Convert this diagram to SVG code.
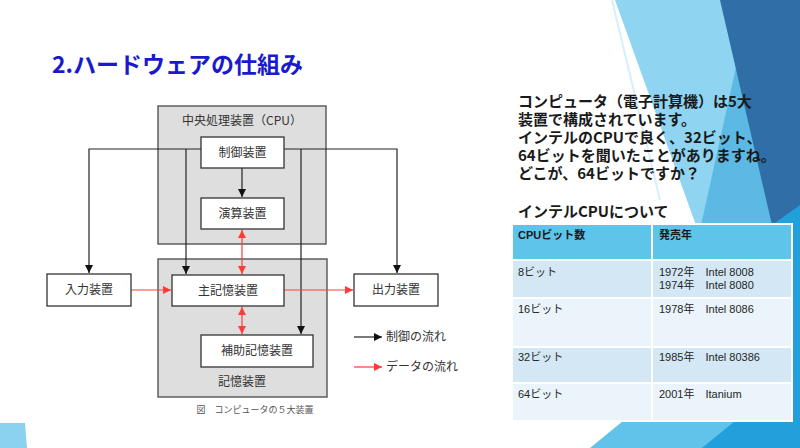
<svg xmlns="http://www.w3.org/2000/svg" width="800" height="448" viewBox="0 0 800 448">
<defs>
<style>
.jp{font-family:"Noto Sans CJK JP","Noto Sans",sans-serif}
.lbl{font-family:"Noto Sans CJK JP",sans-serif;font-size:12px;fill:#333;text-anchor:middle}
.box{fill:#fff;stroke:#333;stroke-width:1.3}
.grp{fill:#dedede;stroke:#555;stroke-width:1.4}
.ctl{fill:none;stroke:#222;stroke-width:1.2}
.dat{fill:none;stroke:#ff3b3b;stroke-width:1.2}
.rt{font-family:"Noto Sans CJK JP",sans-serif;font-size:15px;font-weight:bold;fill:#1a1a1a}
.tt{font-family:"Liberation Sans","Noto Sans CJK JP",sans-serif;font-size:11px;fill:#262626}
.th{font-family:"Liberation Sans","Noto Sans CJK JP",sans-serif;font-size:11px;font-weight:bold;fill:#1a1a1a}
.cell{stroke:#fff;stroke-width:2}
</style>
<marker id="ab" markerWidth="9" markerHeight="9" refX="8" refY="4" orient="auto" markerUnits="userSpaceOnUse"><path d="M0,0 L8,4 L0,8 z" fill="#111"/></marker>
<marker id="ar" markerWidth="9" markerHeight="9" refX="8" refY="4" orient="auto-start-reverse" markerUnits="userSpaceOnUse"><path d="M0,0 L8,4 L0,8 z" fill="#ff3b3b"/></marker>
</defs>
<rect width="800" height="448" fill="#fff"/>
<g id="background">
<polygon points="615,0 800,0 800,448 776,448" fill="#8fd4f1"/>
<line x1="612" y1="0" x2="660" y2="200" stroke="#d6f0fb" stroke-width="2"/>
<polygon points="742,40 772,225 700,230" fill="#5cb9e4"/>
<polygon points="720,0 800,0 800,225 772,225" fill="#2f6ea6"/>
<polygon points="800,205 800,448 700,448 772,225" fill="#21a0dc"/>
<polygon points="590,448 623,421 735,421 702,448" fill="#62c3ea"/>
<polygon points="0,423 25,423 27,448 0,448" fill="#8ad2f0"/>
</g>
<text id="title" x="52" y="73" class="jp" font-size="23" font-weight="bold" fill="#1a1acc">2.ハードウェアの仕組み</text>
<g id="cpu"><rect x="158" y="106" width="168" height="138" class="grp"/><text x="242" y="125" class="lbl" font-size="11">中央処理装置（CPU）</text></g>
<g id="memory"><rect x="158" y="259" width="169" height="138" class="grp"/><text x="242" y="386" class="lbl">記憶装置</text></g>
<g id="connectors">
<path class="ctl" d="M201,149 H89 V273" marker-end="url(#ab)"/>
<path class="ctl" d="M186,149 V274" marker-end="url(#ab)"/>
<path class="ctl" d="M284,149 H397 V273" marker-end="url(#ab)"/>
<path class="ctl" d="M301,149 V334" marker-end="url(#ab)"/>
<path class="ctl" d="M242,168 V197" marker-end="url(#ab)"/>
<path class="dat" d="M242,230 V274" marker-start="url(#ar)" marker-end="url(#ar)"/>
<path class="dat" d="M242,307 V334" marker-start="url(#ar)" marker-end="url(#ar)"/>
<path class="dat" d="M131,290 H171" marker-end="url(#ar)"/>
<path class="dat" d="M284,290 H353" marker-end="url(#ar)"/>
</g>
<g id="control"><rect x="201" y="137" width="83" height="31" class="box"/><text x="242.5" y="157" class="lbl">制御装置</text></g>
<g id="alu"><rect x="201" y="198" width="83" height="31" class="box"/><text x="242.5" y="218" class="lbl">演算装置</text></g>
<g id="main"><rect x="172" y="275" width="112" height="31" class="box"/><text x="228" y="295" class="lbl">主記憶装置</text></g>
<g id="aux"><rect x="201" y="335" width="112" height="32" class="box"/><text x="257" y="355" class="lbl">補助記憶装置</text></g>
<g id="input"><rect x="47" y="274" width="84" height="32" class="box"/><text x="89" y="294" class="lbl">入力装置</text></g>
<g id="output"><rect x="354" y="274" width="84" height="32" class="box"/><text x="396" y="294" class="lbl">出力装置</text></g>
<g id="legend">
<path class="ctl" d="M354,337 H382" marker-end="url(#ab)"/>
<text x="386" y="341" class="lbl" style="text-anchor:start">制御の流れ</text>
<path class="dat" d="M354,367 H382" marker-end="url(#ar)"/>
<text x="386" y="371" class="lbl" style="text-anchor:start">データの流れ</text>
</g>
<text id="caption" x="255" y="413" class="jp" font-size="9" fill="#555" text-anchor="middle">図　コンピュータの５大装置</text>
<g id="righttext">
<text class="rt"><tspan x="518" y="107">コンピュータ（電子計算機）は5大</tspan><tspan x="518" y="125">装置で構成されています。</tspan><tspan x="518" y="143">インテルのCPUで良く、32ビット、</tspan><tspan x="518" y="161">64ビットを聞いたことがありますね。</tspan><tspan x="518" y="179">どこが、64ビットですか？</tspan></text>
<text x="518" y="217" class="rt">インテルCPUについて</text>
</g>
<g id="table">
<rect x="511" y="223" width="282" height="199" fill="#fff"/>
<rect x="512" y="224" width="140" height="36" fill="#5ec4ea" class="cell"/>
<rect x="652" y="224" width="140" height="36" fill="#5ec4ea" class="cell"/>
<rect x="512" y="260" width="140" height="38" fill="#d3e8f4" class="cell"/>
<rect x="652" y="260" width="140" height="38" fill="#d3e8f4" class="cell"/>
<rect x="512" y="298" width="140" height="49" fill="#eaf4fa" class="cell"/>
<rect x="652" y="298" width="140" height="49" fill="#eaf4fa" class="cell"/>
<rect x="512" y="347" width="140" height="36" fill="#d3e8f4" class="cell"/>
<rect x="652" y="347" width="140" height="36" fill="#d3e8f4" class="cell"/>
<rect x="512" y="383" width="140" height="38" fill="#eaf4fa" class="cell"/>
<rect x="652" y="383" width="140" height="38" fill="#eaf4fa" class="cell"/>
<text x="518" y="239" class="th">CPUビット数</text>
<text x="659" y="239" class="th">発売年</text>
<text x="518" y="276" class="tt">8ビット</text>
<text x="659" y="276" class="tt">1972年　Intel 8008</text>
<text x="659" y="289" class="tt">1974年　Intel 8080</text>
<text x="518" y="313" class="tt">16ビット</text>
<text x="659" y="313" class="tt">1978年　Intel 8086</text>
<text x="518" y="361" class="tt">32ビット</text>
<text x="659" y="361" class="tt">1985年　Intel 80386</text>
<text x="518" y="398" class="tt">64ビット</text>
<text x="659" y="398" class="tt">2001年　Itanium</text>
</g>
</svg>
